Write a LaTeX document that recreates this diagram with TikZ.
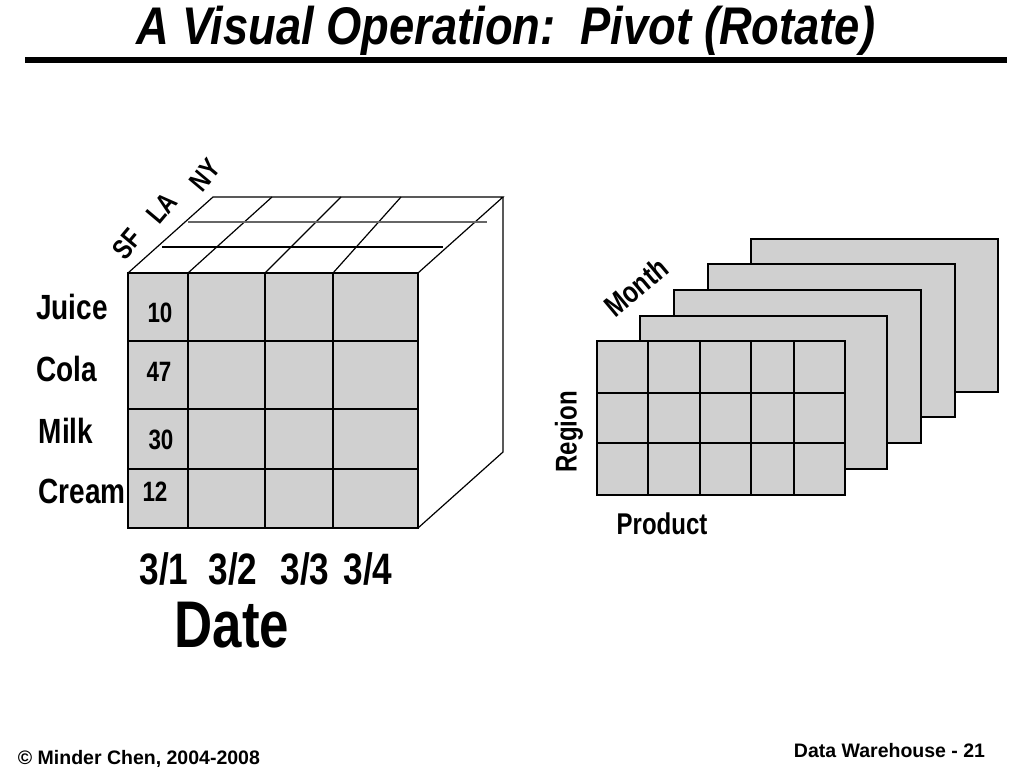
\documentclass[tikz,border=0pt]{standalone}
\usepackage{fontspec}
\setmainfont{Liberation Sans}
\newfontfamily\heavyfont[FakeStretch=0.80]{Liberation Sans Bold}
\newfontfamily\titlefont[FakeStretch=0.855]{Liberation Sans Bold Italic}
\newfontfamily\footfont{Liberation Sans Bold}
\definecolor{cubegray}{RGB}{208,208,208}

\begin{document}
\begin{tikzpicture}[x=1pt,y=-1pt,line width=1.2pt,
  face/.style={draw,fill=cubegray},
  rowlbl/.style={font=\heavyfont\fontsize{35}{35}\selectfont},
  cellval/.style={font=\heavyfont\fontsize{28}{28}\selectfont},
  datelbl/.style={font=\heavyfont\fontsize{44}{44}\selectfont},
  citylbl/.style={font=\heavyfont\fontsize{28}{28}\selectfont,rotate=50},
  axislbl/.style={font=\heavyfont\fontsize{30}{30}\selectfont},
  footer/.style={font=\footfont\fontsize{19.5}{19.5}\selectfont}]
\useasboundingbox (0,0) rectangle (1024,768);

% title
\node[font=\titlefont\fontsize{53}{53}\selectfont] (title) at (506,31) {A Visual Operation:\ \ Pivot (Rotate)};
\draw[line width=6pt] (25,60) -- (1007,60);

% cube, front face
\draw[face] (128,273) rectangle (418,528);
\foreach \x in {188,265,333} \draw (\x,273) -- (\x,528);
\foreach \y in {341,409,469} \draw (128,\y) -- (418,\y);

% cube, top and side
\draw (128,273) -- (213,197) -- (503,197) -- (418,273);
\draw (188,273) -- (272,197);
\draw (265,273) -- (341,197);
\draw (333,273) -- (401,197);
\draw[black!60] (188,222) -- (487,222);
\draw (162,247) -- (443,247);
\draw (503,197) -- (503,452) -- (418,528);

\node[citylbl] (sf) at (127,244) {SF};
\node[citylbl] (la) at (162,208) {LA};
\node[citylbl] (ny) at (205,175) {NY};

\node[rowlbl] (juice) at (72,307) {Juice};
\node[rowlbl] (cola) at (67,369) {Cola};
\node[rowlbl] (milk) at (66,431) {Milk};
\node[rowlbl] (cream) at (82,491) {Cream};

\node[cellval] (v10) at (160,313) {10};
\node[cellval] (v47) at (159,372) {47};
\node[cellval] (v30) at (161,440) {30};
\node[cellval] (v12) at (155,492) {12};

\node[datelbl] (d1) at (164,569) {3/1};
\node[datelbl] (d2) at (233,569) {3/2};
\node[datelbl] (d3) at (305,569) {3/3};
\node[datelbl] (d4) at (368,569) {3/4};
\node[font=\heavyfont\fontsize{66}{66}\selectfont] (date) at (232,625) {Date};

% stacked sheets
\foreach \x/\y in {751/239,708/264,674/290,640/316}
  \draw[face] (\x,\y) rectangle ++(247,153);
\draw[face] (597,341) rectangle (845,495);
\foreach \x in {648,700,751,794} \draw (\x,341) -- (\x,495);
\foreach \y in {393,443} \draw (597,\y) -- (845,\y);

\node[axislbl,rotate=40] (month) at (636,287) {Month};
\node[axislbl,rotate=90] (region) at (569,432) {Region};
\node[axislbl] (product) at (662,524) {Product};

% footer
\node[footer,anchor=west] (copy) at (14,759) {\textcopyright{} Minder Chen, 2004-2008};
\node[footer,anchor=east] (page) at (989,751) {Data Warehouse - 21};
\end{tikzpicture}
\end{document}
